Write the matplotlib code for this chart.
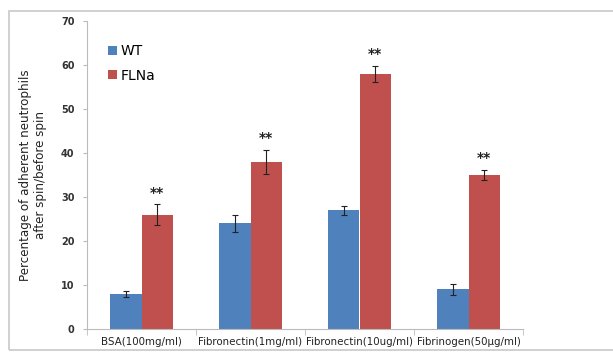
import matplotlib.pyplot as plt
from matplotlib.patches import Rectangle
import numpy as np

# Data
categories = ['BSA(100mg/ml)', 'Fibronectin(1mg/ml)', 'Fibronectin(10ug/ml)', 'Fibrinogen(50\u00b5g/ml)']
wt_values = [8, 24, 27, 9]
wt_errors = [0.7, 2.0, 1.0, 1.3]
flna_values = [26, 38, 58, 35]
flna_errors = [2.4, 2.7, 1.8, 1.2]
significance = ['**', '**', '**', '**']

fig = plt.figure(figsize=(6.13, 3.56), dpi=100)

# light grey frame around the whole chart
fig.patches.append(Rectangle((9 / 613, 6 / 356), 1.2, 339 / 356, transform=fig.transFigure,
                             fill=False, edgecolor='#c8c8c8', linewidth=1.2))

ax = fig.add_axes([87 / 613, 27 / 356, 436 / 613, 308 / 356])

x = np.arange(len(categories))
width = 0.285
err_kw = dict(ecolor='#222222', elinewidth=0.8, capsize=2, capthick=0.8)

ax.bar(x - width / 2, wt_values, width, yerr=wt_errors, color='#4F81BD', label='WT', error_kw=err_kw)
ax.bar(x + width / 2, flna_values, width, yerr=flna_errors, color='#C0504D', label='FLNa', error_kw=err_kw)

for i, s in enumerate(significance):
    ax.text(x[i] + width / 2, flna_values[i] + flna_errors[i] + 2.6, s,
            ha='center', va='center', fontsize=10, fontweight='bold', color='#222222')

ax.set_xlim(-0.5, len(categories) - 0.5)
ax.set_ylim(0, 70)
ax.set_yticks(range(0, 71, 10))
ax.tick_params(axis='y', labelsize=7, length=3, color='#bbbbbb', pad=6)
for lbl in ax.get_yticklabels():
    lbl.set_fontweight('bold')
    lbl.set_color('#333333')

ax.set_xticks(x)
ax.set_xticklabels(categories, fontsize=7.4, color='#222222')
ax.tick_params(axis='x', length=0, pad=6)
ax.set_xticks(np.arange(-0.5, len(categories)), minor=True)
ax.tick_params(axis='x', which='minor', length=4, color='#bbbbbb')

for side in ['top', 'right']:
    ax.spines[side].set_visible(False)
ax.spines['left'].set_color('#bbbbbb')
ax.spines['bottom'].set_color('#bbbbbb')

ax.set_ylabel('Percentage of adherent neutrophils\nafter spin/before spin', fontsize=8.6,
              color='#222222', labelpad=10)

leg = ax.legend(loc='upper left', bbox_to_anchor=(0.02, 0.965), frameon=False, fontsize=10,
                handlelength=0.6, handleheight=0.6, handletextpad=0.3, labelspacing=0.75)

plt.savefig('out.png', dpi=100)
